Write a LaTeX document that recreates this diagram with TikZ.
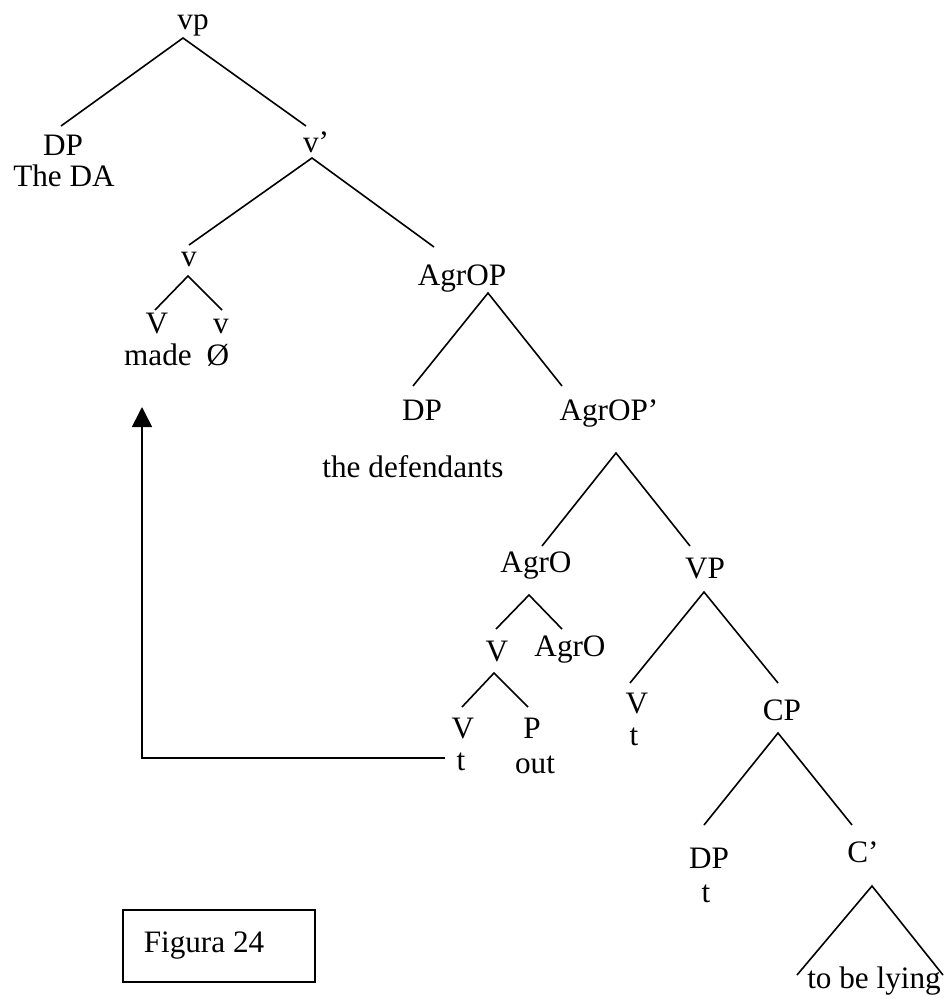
\documentclass[tikz,border=0pt]{standalone}
\usepackage{fontspec}
\setmainfont{Liberation Serif}
\usetikzlibrary{arrows.meta}
\begin{document}
\begin{tikzpicture}[x=0.75pt,y=-0.75pt,
  lbl/.style={anchor=base,inner sep=0pt,font=\fontsize{23.4}{28}\selectfont},
  branch/.style={line width=1.2pt},
  move/.style={line width=1.2pt,-{Triangle[width=15pt,length=15pt]}},
  caption/.style={draw,line width=1.2pt}]
\useasboundingbox (0,0) rectangle (944,999);

% category labels and words
\node[lbl] (vp) at (193,30) {vp};
\node[lbl] (dpA) at (63,155) {DP};
\node[lbl] (theda) at (64,186) {The DA};
\node[lbl] (vbar) at (316,152) {v’};
\node[lbl] (vsm) at (189,266) {v};
\node[lbl] (vmade) at (157,333) {V};
\node[lbl] (vnull) at (221,333) {v};
\node[lbl] (made) at (158,365) {made};
\node[lbl] (null) at (218,365) {Ø};
\node[lbl] (agrop) at (462,285) {AgrOP};
\node[lbl] (dpB) at (422,420) {DP};
\node[lbl] (defs) at (413,477) {the defendants};
\node[lbl] (agropbar) at (609,420) {AgrOP’};
\node[lbl] (agro) at (536,572) {AgrO};
\node[lbl] (vpB) at (705,578) {VP};
\node[lbl] (vcomp) at (497,661) {V};
\node[lbl] (agroh) at (570,656) {AgrO};
\node[lbl] (vt) at (463,738) {V};
\node[lbl] (tr1) at (461,770) {t};
\node[lbl] (prt) at (532,738) {P};
\node[lbl] (out) at (535,773) {out};
\node[lbl] (vlow) at (637,713) {V};
\node[lbl] (tr2) at (634,745) {t};
\node[lbl] (cp) at (782,720) {CP};
\node[lbl] (dpC) at (709,868) {DP};
\node[lbl] (tr3) at (706,902) {t};
\node[lbl] (cbar) at (863,862) {C’};
\node[lbl] (lying) at (874,988) {to be lying};

% branch ends: apex under each mother, foot above each daughter
\coordinate (vp-a) at (183,38);
\coordinate (dpA-f) at (61,126);
\coordinate (vbar-f) at (306,126);
\coordinate (vbar-a) at (312,158);
\coordinate (vsm-f) at (189,245);
\coordinate (agrop-f) at (434,247);
\coordinate (vsm-a) at (188,276);
\coordinate (vmade-f) at (155,310);
\coordinate (vnull-f) at (222,310);
\coordinate (agrop-a) at (488,293);
\coordinate (dpB-f) at (413,386);
\coordinate (agropbar-f) at (562,386);
\coordinate (agropbar-a) at (616,453);
\coordinate (agro-f) at (542,546);
\coordinate (vpB-f) at (690,546);
\coordinate (agro-a) at (529,595);
\coordinate (vcomp-f) at (496,629);
\coordinate (agroh-f) at (562,629);
\coordinate (vcomp-a) at (494,673);
\coordinate (vt-f) at (462,707);
\coordinate (prt-f) at (528,707);
\coordinate (vpB-a) at (704,592);
\coordinate (vlow-f) at (630,683);
\coordinate (cp-f) at (778,683);
\coordinate (cp-a) at (778,733);
\coordinate (dpC-f) at (704,825);
\coordinate (cbar-f) at (852,825);
\coordinate (cbar-a) at (872,886);
\coordinate (lyingL) at (797,975);
\coordinate (lyingR) at (943,975);

% tree branches
\draw[branch] (dpA-f) -- (vp-a) -- (vbar-f);
\draw[branch] (vsm-f) -- (vbar-a) -- (agrop-f);
\draw[branch] (vmade-f) -- (vsm-a) -- (vnull-f);
\draw[branch] (dpB-f) -- (agrop-a) -- (agropbar-f);
\draw[branch] (agro-f) -- (agropbar-a) -- (vpB-f);
\draw[branch] (vcomp-f) -- (agro-a) -- (agroh-f);
\draw[branch] (vt-f) -- (vcomp-a) -- (prt-f);
\draw[branch] (vlow-f) -- (vpB-a) -- (cp-f);
\draw[branch] (dpC-f) -- (cp-a) -- (cbar-f);
\draw[branch] (lyingL) -- (cbar-a) -- (lyingR);

% head movement of the verb
\coordinate (mv-start) at (445,758);
\coordinate (mv-corner) at (142,758);
\coordinate (mv-end) at (142,407);
\draw[move] (mv-start) -- (mv-corner) -- (mv-end);

% caption box
\node[caption,minimum width=144pt,minimum height=54pt,inner sep=0pt] (capbox) at (219,946) {};
\node[lbl] (figura) at (204,952) {Figura 24};
\end{tikzpicture}
\end{document}
